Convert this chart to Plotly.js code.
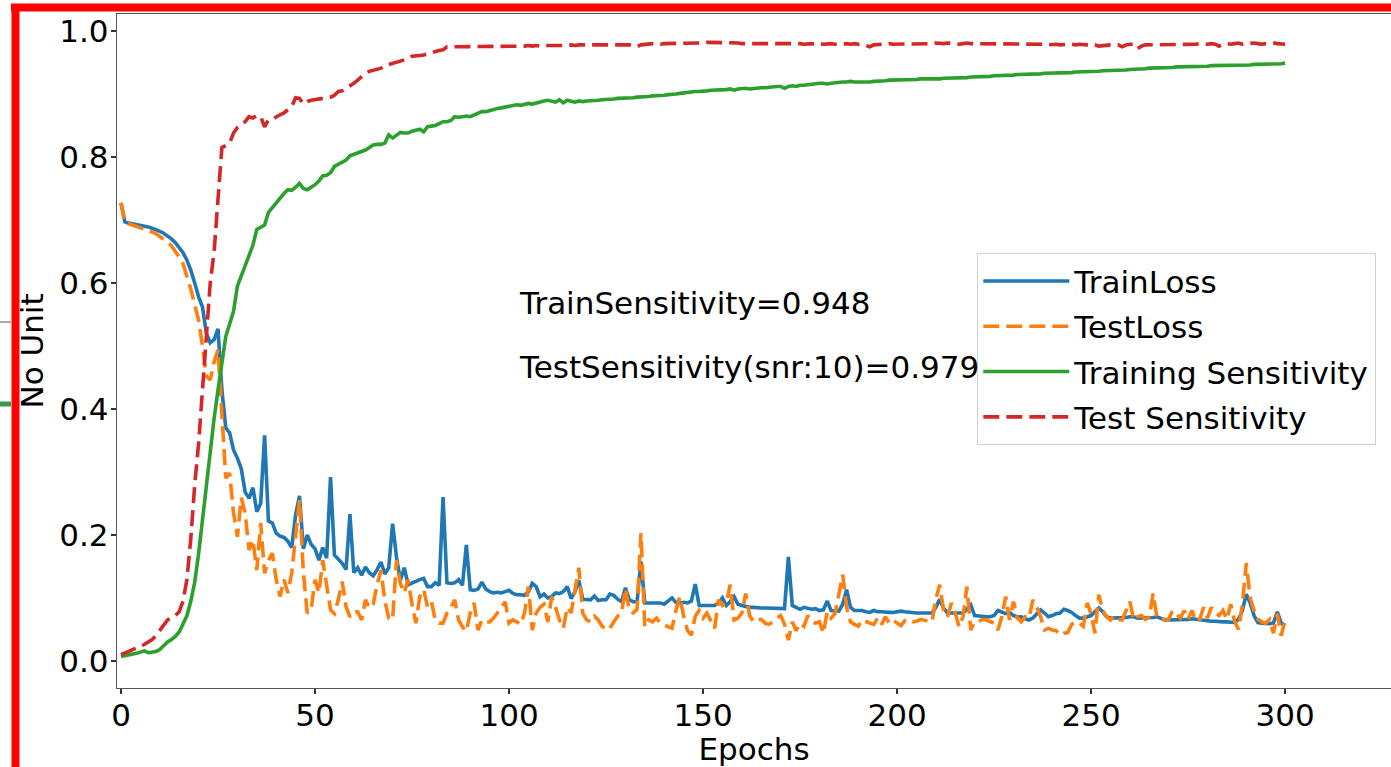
<!DOCTYPE html>
<html>
<head>
<meta charset="utf-8">
<script src="https://cdn.plot.ly/plotly-3.0.1.min.js"></script>
<style>
html,body{margin:0;padding:0;background:#fff;overflow:hidden;}
#chart{width:1391px;height:767px;}
</style>
</head>
<body>
<div id="chart"></div>
<script>
// ---- data (one value per epoch, 0..300) ----
const trainLoss = [
0.727,0.697,0.695,0.694,0.693,0.692,0.690,0.689,0.687,0.685,
0.682,0.679,0.675,0.670,0.664,0.657,0.648,0.636,0.620,0.600,
0.578,0.562,0.520,0.505,0.510,0.527,0.430,0.370,0.362,0.335,
0.322,0.305,0.268,0.258,0.275,0.237,0.250,0.358,0.222,0.219,
0.203,0.198,0.196,0.190,0.180,0.232,0.262,0.178,0.200,0.185,
0.178,0.160,0.180,0.163,0.292,0.168,0.162,0.155,0.145,0.233,
0.140,0.148,0.136,0.149,0.140,0.135,0.145,0.157,0.138,0.148,
0.218,0.165,0.128,0.148,0.121,0.124,0.127,0.129,0.131,0.118,
0.118,0.124,0.120,0.260,0.124,0.123,0.124,0.129,0.120,0.184,
0.113,0.112,0.114,0.125,0.114,0.110,0.108,0.109,0.108,0.110,
0.112,0.107,0.105,0.105,0.104,0.110,0.123,0.118,0.102,0.106,
0.100,0.102,0.108,0.107,0.110,0.118,0.099,0.110,0.128,0.098,
0.097,0.097,0.103,0.096,0.097,0.097,0.106,0.104,0.098,0.094,
0.116,0.097,0.094,0.094,0.158,0.092,0.092,0.092,0.091,0.092,
0.090,0.095,0.100,0.093,0.092,0.093,0.092,0.095,0.122,0.088,
0.088,0.087,0.087,0.088,0.092,0.100,0.088,0.094,0.102,0.090,
0.088,0.086,0.085,0.085,0.084,0.084,0.084,0.084,0.083,0.083,
0.083,0.083,0.165,0.088,0.085,0.082,0.085,0.083,0.082,0.083,
0.080,0.081,0.095,0.080,0.080,0.079,0.090,0.113,0.085,0.080,
0.080,0.080,0.078,0.077,0.080,0.078,0.078,0.077,0.077,0.077,
0.078,0.079,0.078,0.077,0.076,0.076,0.076,0.076,0.076,0.076,
0.085,0.098,0.084,0.076,0.076,0.076,0.076,0.076,0.082,0.089,
0.072,0.071,0.070,0.070,0.070,0.072,0.080,0.078,0.075,0.077,
0.072,0.070,0.070,0.067,0.065,0.068,0.075,0.081,0.076,0.070,
0.072,0.075,0.076,0.082,0.080,0.077,0.072,0.068,0.068,0.070,
0.072,0.078,0.084,0.078,0.070,0.068,0.068,0.068,0.068,0.069,
0.070,0.070,0.068,0.068,0.068,0.069,0.069,0.070,0.067,0.065,
0.065,0.065,0.065,0.065,0.066,0.066,0.067,0.066,0.065,0.064,
0.064,0.063,0.063,0.062,0.062,0.062,0.061,0.061,0.066,0.080,
0.106,0.092,0.072,0.061,0.060,0.059,0.059,0.060,0.078,0.060,
0.057];

const testLoss = [
0.727,0.697,0.694,0.692,0.690,0.688,0.686,0.684,0.681,0.678,
0.674,0.670,0.665,0.659,0.651,0.641,0.630,0.612,0.590,0.565,
0.541,0.500,0.452,0.446,0.475,0.494,0.400,0.290,0.298,0.235,
0.197,0.259,0.235,0.176,0.192,0.144,0.219,0.139,0.160,0.171,
0.129,0.102,0.129,0.108,0.140,0.197,0.256,0.140,0.076,0.081,
0.129,0.108,0.160,0.120,0.081,0.075,0.097,0.126,0.086,0.070,
0.078,0.078,0.065,0.097,0.084,0.090,0.121,0.144,0.095,0.068,
0.065,0.160,0.123,0.108,0.129,0.090,0.060,0.102,0.113,0.086,
0.094,0.065,0.060,0.060,0.076,0.085,0.097,0.065,0.054,0.047,
0.076,0.092,0.049,0.065,0.062,0.062,0.068,0.076,0.086,0.094,
0.060,0.065,0.062,0.058,0.076,0.118,0.049,0.076,0.085,0.090,
0.062,0.102,0.085,0.065,0.052,0.085,0.076,0.110,0.148,0.076,
0.065,0.062,0.071,0.065,0.055,0.049,0.052,0.062,0.071,0.076,
0.115,0.080,0.076,0.082,0.203,0.054,0.065,0.062,0.068,0.060,
0.058,0.054,0.052,0.080,0.102,0.071,0.048,0.041,0.071,0.080,
0.068,0.076,0.065,0.052,0.097,0.088,0.092,0.121,0.065,0.068,
0.076,0.107,0.072,0.062,0.065,0.066,0.060,0.058,0.062,0.068,
0.072,0.058,0.033,0.062,0.048,0.060,0.055,0.072,0.062,0.060,
0.062,0.044,0.078,0.068,0.075,0.110,0.137,0.085,0.062,0.058,
0.055,0.065,0.062,0.060,0.058,0.068,0.058,0.070,0.060,0.065,
0.060,0.056,0.064,0.066,0.062,0.063,0.066,0.064,0.063,0.062,
0.098,0.121,0.080,0.070,0.092,0.076,0.054,0.070,0.118,0.049,
0.062,0.062,0.066,0.065,0.062,0.060,0.049,0.070,0.102,0.065,
0.094,0.068,0.062,0.070,0.068,0.097,0.085,0.070,0.049,0.052,
0.049,0.048,0.041,0.044,0.045,0.058,0.062,0.060,0.055,0.092,
0.075,0.044,0.105,0.080,0.070,0.065,0.072,0.066,0.065,0.080,
0.094,0.065,0.070,0.072,0.066,0.070,0.107,0.068,0.065,0.066,
0.066,0.080,0.075,0.068,0.080,0.066,0.080,0.063,0.066,0.085,
0.068,0.085,0.076,0.072,0.080,0.066,0.090,0.063,0.050,0.090,
0.155,0.100,0.080,0.066,0.062,0.060,0.066,0.044,0.075,0.040,
0.065];

const trainSens = [
0.007,0.008,0.009,0.011,0.012,0.014,0.016,0.013,0.014,0.015,
0.018,0.024,0.030,0.034,0.039,0.046,0.058,0.072,0.095,0.125,
0.170,0.225,0.280,0.330,0.385,0.430,0.470,0.515,0.535,0.555,
0.595,0.612,0.630,0.645,0.660,0.685,0.689,0.692,0.712,0.720,
0.728,0.735,0.742,0.748,0.747,0.752,0.758,0.750,0.748,0.752,
0.756,0.762,0.770,0.771,0.775,0.785,0.788,0.792,0.795,0.802,
0.804,0.806,0.808,0.811,0.815,0.819,0.820,0.820,0.822,0.835,
0.830,0.834,0.839,0.838,0.838,0.841,0.843,0.844,0.840,0.848,
0.849,0.850,0.853,0.856,0.856,0.858,0.864,0.863,0.864,0.865,
0.864,0.867,0.869,0.872,0.872,0.874,0.875,0.877,0.878,0.879,
0.880,0.881,0.883,0.882,0.884,0.885,0.884,0.886,0.888,0.889,
0.890,0.888,0.887,0.891,0.886,0.890,0.889,0.887,0.889,0.888,
0.889,0.889,0.890,0.890,0.891,0.891,0.891,0.892,0.893,0.893,
0.894,0.893,0.894,0.895,0.895,0.895,0.896,0.897,0.897,0.898,
0.898,0.899,0.899,0.900,0.901,0.902,0.903,0.903,0.904,0.904,
0.904,0.905,0.906,0.906,0.906,0.907,0.907,0.908,0.906,0.908,
0.909,0.909,0.908,0.909,0.909,0.910,0.910,0.911,0.911,0.912,
0.912,0.909,0.912,0.913,0.912,0.914,0.914,0.915,0.916,0.916,
0.917,0.917,0.916,0.917,0.918,0.918,0.919,0.919,0.920,0.919,
0.919,0.919,0.918,0.919,0.920,0.920,0.921,0.921,0.922,0.922,
0.922,0.922,0.922,0.923,0.923,0.923,0.924,0.924,0.923,0.924,
0.924,0.924,0.925,0.925,0.925,0.926,0.926,0.926,0.926,0.927,
0.927,0.927,0.928,0.928,0.928,0.929,0.929,0.929,0.930,0.930,
0.930,0.931,0.931,0.931,0.931,0.932,0.932,0.932,0.933,0.933,
0.933,0.933,0.934,0.934,0.934,0.934,0.935,0.935,0.935,0.935,
0.936,0.936,0.936,0.937,0.937,0.937,0.937,0.938,0.938,0.938,
0.939,0.939,0.940,0.940,0.940,0.941,0.941,0.941,0.942,0.942,
0.942,0.942,0.943,0.943,0.943,0.943,0.944,0.944,0.944,0.944,
0.944,0.945,0.945,0.945,0.945,0.946,0.946,0.946,0.946,0.946,
0.946,0.946,0.947,0.947,0.947,0.947,0.948,0.948,0.948,0.948,
0.949];

const testSens = [
0.010,0.012,0.015,0.018,0.020,0.023,0.026,0.030,0.034,0.040,
0.048,0.058,0.065,0.068,0.072,0.078,0.095,0.130,0.195,0.280,
0.345,0.430,0.520,0.600,0.650,0.730,0.815,0.818,0.822,0.838,
0.847,0.852,0.856,0.864,0.862,0.866,0.864,0.848,0.859,0.860,
0.864,0.867,0.870,0.875,0.880,0.894,0.893,0.884,0.888,0.890,
0.891,0.893,0.893,0.895,0.895,0.898,0.904,0.905,0.909,0.912,
0.917,0.922,0.928,0.933,0.936,0.938,0.940,0.941,0.945,0.947,
0.949,0.950,0.953,0.954,0.956,0.960,0.960,0.961,0.962,0.964,
0.966,0.968,0.969,0.970,0.975,0.975,0.975,0.975,0.975,0.975,
0.975,0.975,0.976,0.975,0.975,0.975,0.976,0.975,0.976,0.976,
0.976,0.976,0.976,0.976,0.976,0.977,0.976,0.977,0.976,0.977,
0.977,0.977,0.976,0.977,0.977,0.977,0.978,0.977,0.978,0.978,
0.978,0.978,0.978,0.979,0.978,0.979,0.979,0.979,0.978,0.979,
0.979,0.978,0.976,0.975,0.978,0.979,0.979,0.980,0.980,0.979,
0.980,0.980,0.980,0.980,0.980,0.981,0.981,0.980,0.981,0.981,
0.981,0.982,0.982,0.981,0.982,0.982,0.981,0.982,0.982,0.981,
0.980,0.980,0.981,0.980,0.981,0.981,0.980,0.981,0.980,0.981,
0.981,0.981,0.980,0.981,0.980,0.980,0.979,0.980,0.980,0.979,
0.980,0.979,0.980,0.980,0.979,0.980,0.979,0.980,0.979,0.980,
0.979,0.979,0.977,0.975,0.978,0.979,0.979,0.979,0.980,0.979,
0.979,0.980,0.980,0.979,0.980,0.980,0.980,0.979,0.980,0.980,
0.981,0.980,0.980,0.981,0.980,0.980,0.979,0.980,0.981,0.980,
0.980,0.979,0.980,0.980,0.980,0.979,0.979,0.980,0.980,0.980,
0.980,0.979,0.979,0.979,0.980,0.979,0.979,0.979,0.979,0.978,
0.979,0.979,0.978,0.979,0.979,0.979,0.978,0.979,0.978,0.978,
0.978,0.978,0.976,0.977,0.978,0.978,0.978,0.978,0.975,0.978,
0.979,0.979,0.972,0.976,0.978,0.978,0.979,0.979,0.978,0.979,
0.979,0.978,0.979,0.979,0.978,0.979,0.978,0.979,0.980,0.979,
0.979,0.980,0.979,0.976,0.979,0.980,0.979,0.980,0.981,0.979,
0.980,0.980,0.981,0.980,0.979,0.980,0.981,0.981,0.980,0.980,
0.979];

const seriesNames = ["TrainLoss", "TestLoss", "Training Sensitivity", "Test Sensitivity"];
const xTickVals = [0, 50, 100, 150, 200, 250, 300];
const yTickVals = [0.0, 0.2, 0.4, 0.6, 0.8, 1.0];
const noteTexts = ["TrainSensitivity=0.948", "TestSensitivity(snr:10)=0.979"];

// ---- drawing ----
const epochs = trainLoss.map((_, i) => i);
const FONT = "DejaVu Sans, Liberation Sans, sans-serif";
const FS = 31;
const colors = ["#1f77b4", "#ff7f0e", "#2ca02c", "#d62728"];
const dashes = ["solid", "16px,7px", "solid", "16px,7px"];
const values = [trainLoss, testLoss, trainSens, testSens];

const traces = values.map((v, k) => ({
  x: epochs, y: v, type: "scatter", mode: "lines",
  name: seriesNames[k], legendgroup: "g" + k,
  line: {color: colors[k], width: 3.6, dash: dashes[k]},
  hoverinfo: "skip"
}));

// plot area in pixels: left 117, right 1391, top 14, bottom 688
const L = 117, R = 1391, T = 14, B = 688;
const px = v => (v - L) / (R - L);
const py = v => (B - v) / (B - T);
const tf = {family: FONT, size: FS, color: "#000"};

const layout = {
  width: 1391, height: 767,
  margin: {l: L, r: 1391 - R, t: T, b: 767 - B, pad: 0},
  paper_bgcolor: "#ffffff", plot_bgcolor: "#ffffff",
  font: tf,
  showlegend: true,
  xaxis: {
    range: [-1.03, 327.3], tickvals: xTickVals, ticktext: xTickVals.map(String),
    ticks: "outside", ticklen: 5, tickwidth: 1.2, tickcolor: "#333",
    ticklabelstandoff: -5,
    showline: true, linecolor: "#555", linewidth: 1.2, mirror: true,
    showgrid: false, zeroline: false,
    tickfont: tf,
    title: {text: "Epochs", font: tf, standoff: 0}
  },
  yaxis: {
    range: [-0.043, 1.027], tickvals: yTickVals, ticktext: yTickVals.map(v => v.toFixed(1)),
    ticks: "outside", ticklen: 5, tickwidth: 1.2, tickcolor: "#333",
    ticklabelstandoff: -4,
    showline: true, linecolor: "#555", linewidth: 1.2, mirror: false,
    showgrid: false, zeroline: false,
    tickfont: tf,
    title: {text: "No Unit", font: tf, standoff: 6}
  },
  legend: {
    x: px(977), y: py(253), xanchor: "left", yanchor: "top",
    bgcolor: "rgba(255,255,255,0.85)", bordercolor: "#d0d0d0", borderwidth: 1.3,
    font: tf,
    tracegroupgap: 2, itemwidth: 86
  },
  annotations: [
    {x: 102, y: 0.568, xref: "x", yref: "y", text: noteTexts[0], showarrow: false,
     xanchor: "left", yanchor: "middle", font: tf},
    {x: 102, y: 0.467, xref: "x", yref: "y", text: noteTexts[1], showarrow: false,
     xanchor: "left", yanchor: "middle", font: tf}
  ],
  shapes: [
    // red frame of the screenshot
    {type: "line", xref: "paper", yref: "paper", x0: px(11), x1: px(1391), y0: py(7.5), y1: py(7.5),
     line: {color: "#ff0000", width: 8}, layer: "above"},
    {type: "line", xref: "paper", yref: "paper", x0: px(15.5), x1: px(15.5), y0: py(4), y1: py(767),
     line: {color: "#ff0000", width: 8}, layer: "above"},
    // fragments of a neighbouring figure at the left edge
    {type: "line", xref: "paper", yref: "paper", x0: px(0), x1: px(11), y0: py(322), y1: py(322),
     line: {color: "#555", width: 1}, layer: "above"},
    {type: "line", xref: "paper", yref: "paper", x0: px(0), x1: px(11), y0: py(404), y1: py(404),
     line: {color: "#3a9a4a", width: 5}, layer: "above"}
  ],
  hovermode: false
};

Plotly.newPlot("chart", traces, layout, {displayModeBar: false, staticPlot: true});
</script>
</body>
</html>
